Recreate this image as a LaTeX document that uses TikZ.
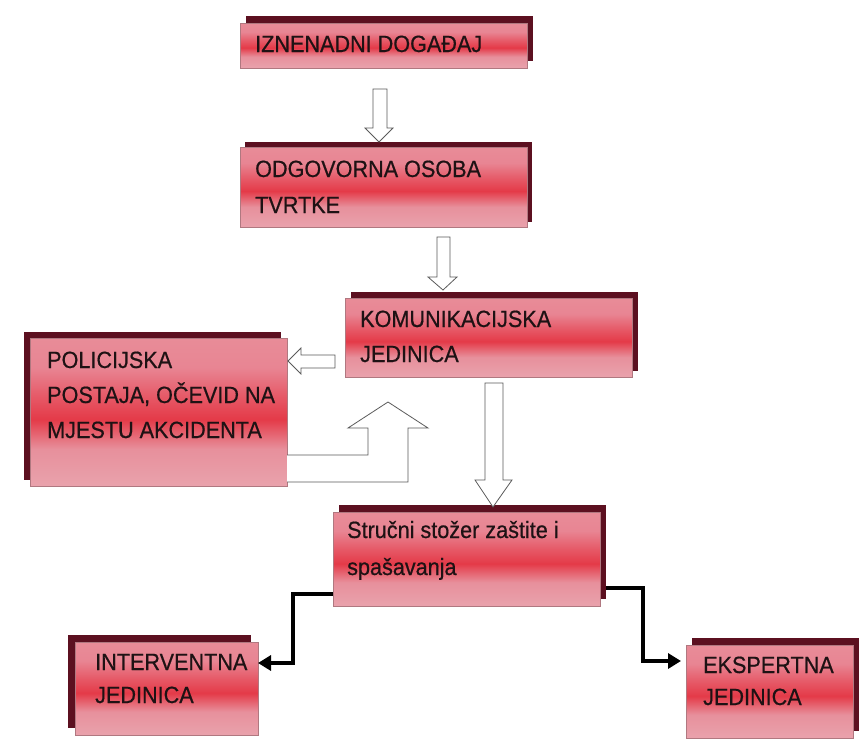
\documentclass[tikz,border=0pt]{standalone}
\usepackage{fontspec}
\setmainfont{Liberation Sans}[FakeStretch=0.92,FakeBold=0.6]
\usetikzlibrary{shadows,arrows.meta,calc}
\definecolor{shbot}{HTML}{E9A2AC}
\definecolor{shlow}{HTML}{E7909C}
\definecolor{shred}{HTML}{E43A48}
\definecolor{shmid}{HTML}{E65866}
\definecolor{shup}{HTML}{E88593}
\definecolor{shtop}{HTML}{E88C98}
\definecolor{shadowc}{HTML}{5C1020}
\definecolor{boxline}{HTML}{B07880}
\definecolor{txt}{HTML}{1E1214}
\definecolor{arrline}{HTML}{5A5A5A}
\pgfdeclareverticalshading{boxshade}{100bp}{color(0bp)=(shbot); color(25bp)=(shbot);
  color(37.5bp)=(shlow); color(47.5bp)=(shred); color(55bp)=(shmid);
  color(65bp)=(shup); color(75bp)=(shtop); color(100bp)=(shtop)}
\begin{document}
\begin{tikzpicture}[x=1pt,y=-1pt,
  box/.style 2 args={rectangle, anchor=north west, inner sep=0pt, outer sep=0pt,
    draw=boxline, line width=0.6pt, shading=boxshade,
    general shadow={shadow xshift=#1pt, shadow yshift=#2pt, fill=shadowc, draw=none}},
  lbl/.style={anchor=base west, inner sep=0pt, text=txt, font=\fontsize{23.5}{26}\selectfont},
  barrow/.style={draw=arrline, fill=white, line width=0.8pt, line join=miter},
  conn/.style={draw=black, line width=4pt, line join=miter,
    -{Triangle[length=13pt,width=15pt]}}]
\path[use as bounding box, fill=white] (0,0) rectangle (863,755);

% box nodes
\node[box={6}{7}, minimum width=287pt, minimum height=45pt] (b1) at (240,23) {};
\node[box={5}{5}, minimum width=287pt, minimum height=80pt] (b2) at (240,147) {};
\node[box={6}{6}, minimum width=287pt, minimum height=79pt] (b3) at (345,298) {};
\node[box={-6}{6}, minimum width=257pt, minimum height=148pt] (b4) at (30,338) {};
\node[box={-7}{7}, minimum width=183pt, minimum height=93pt] (b6) at (75,642) {};
\node[box={6}{7}, minimum width=167pt, minimum height=93pt] (b7) at (686,645) {};
\node[box={6}{7}, minimum width=267pt, minimum height=94pt] (b5) at (333,512) {};

% thick connectors
\coordinate (l1) at (293,663);
\coordinate (r1) at (643,661);
\draw[conn] ([yshift=-35pt]b5.west) -| (l1) -- (l1 -| b6.east);
\draw[conn] ([xshift=6pt,yshift=-29pt]b5.east) -| (r1) -- ([xshift=-5pt]r1 -| b7.west);

% hollow block arrows
\draw[barrow] (373,89) -- (387,89) -- (387,128) -- (393,128) -- (379,142) -- (365,128) -- (373,128) -- cycle;
\draw[barrow] (437,237) -- (450,237) -- (450,277) -- (457,277) -- (443,290) -- (428,277) -- (437,277) -- cycle;
\draw[barrow] (335,355) -- (301,355) -- (301,348) -- (288,361) -- (301,374) -- (301,368) -- (335,368) -- cycle;
\draw[barrow] (485,383) -- (503,383) -- (503,480) -- (512,480) -- (493,507) -- (475,480) -- (485,480) -- cycle;
\draw[barrow] (287,455) -- (368,455) -- (368,428) -- (348,428) -- (388,402) -- (428,428) -- (408,428) -- (408,482) -- (287,482);

% labels
\node[lbl] (t1) at (255,52) {IZNENADNI DOGAĐAJ};
\node[lbl] (t2a) at (255,177) {ODGOVORNA OSOBA};
\node[lbl] (t2b) at (255,213) {TVRTKE};
\node[lbl] (t3a) at (360,327) {KOMUNIKACIJSKA};
\node[lbl] (t3b) at (360,362) {JEDINICA};
\node[lbl] (t4a) at (47,368) {POLICIJSKA};
\node[lbl] (t4b) at (47,403) {POSTAJA, OČEVID NA};
\node[lbl] (t4c) at (47,438) {MJESTU AKCIDENTA};
\node[lbl] (t5a) at (347,538) {Stručni stožer zaštite i};
\node[lbl] (t5b) at (347,575) {spašavanja};
\node[lbl] (t6a) at (95,670) {INTERVENTNA};
\node[lbl] (t6b) at (95,703) {JEDINICA};
\node[lbl] (t7a) at (703,673) {EKSPERTNA};
\node[lbl] (t7b) at (703,705) {JEDINICA};
\end{tikzpicture}
\end{document}
